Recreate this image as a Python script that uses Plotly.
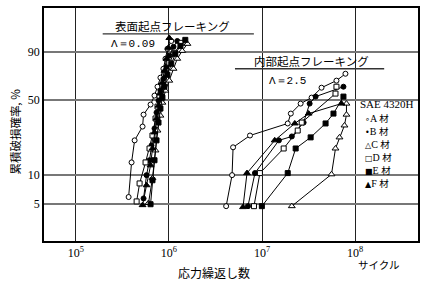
import math
import plotly.graph_objects as go

# ---------------- data ----------------
PROB_TICKS = [5, 10, 50, 90]
X_TICKS = [1e5, 1e6, 1e7, 1e8]
X_TICK_TEXT = ["10<sup>5</sup>", "10<sup>6</sup>", "10<sup>7</sup>", "10<sup>8</sup>"]

MATERIALS = ["A", "B", "C", "D", "E", "F"]

# surface-origin flaking (Λ = 0.09)
sA_N = [3.69e5, 3.97e5, 4.28e5, 5.21e5, 5.34e5, 6.35e5, 7.00e5, 7.54e5, 8.11e5, 8.73e5, 9.18e5, 9.64e5, 1.06e6]
sA_P = [5.9, 13.5, 22.3, 30.0, 38.2, 46.2, 54.0, 62.1, 70.4, 78.2, 85.9, 91.9, 95.3]
sB_N = [5.34e5, 5.75e5, 6.19e5, 6.50e5, 7.00e5, 7.36e5, 7.73e5, 8.11e5, 8.73e5, 9.40e5, 1.01e6, 1.12e6, 1.23e6]
sB_P = [5.7, 10.0, 14.2, 19.9, 28.8, 39.8, 49.6, 58.5, 69.5, 79.8, 87.9, 92.9, 95.3]
sC_N = [6.04e5, 6.66e5, 7.18e5, 7.54e5, 8.11e5, 8.52e5, 9.18e5, 1.01e6, 1.12e6, 1.23e6, 1.39e6, 1.58e6]
sC_P = [5.1, 9.3, 17.8, 27.6, 37.5, 47.8, 58.5, 67.7, 78.2, 85.9, 90.8, 94.2]
sD_N = [4.50e5, 4.84e5, 5.61e5, 6.19e5, 6.66e5, 7.18e5, 7.54e5, 7.92e5, 8.52e5, 9.18e5, 1.01e6, 1.15e6, 1.36e6]
sD_P = [5.3, 8.2, 13.5, 18.6, 24.8, 35.4, 44.5, 54.0, 64.0, 74.8, 83.0, 89.7, 94.6]
sE_N = [6.35e5, 6.66e5, 7.00e5, 7.36e5, 7.73e5, 8.11e5, 8.52e5, 8.95e5, 9.64e5, 1.06e6, 1.17e6, 1.33e6, 1.50e6]
sE_P = [4.95, 8.85, 14.2, 22.3, 32.6, 42.9, 52.2, 62.1, 73.0, 82.2, 89.1, 93.3, 95.7]
sF_N = [5.21e5, 5.75e5, 6.35e5, 6.66e5, 7.00e5, 7.36e5, 7.73e5, 8.11e5, 8.52e5, 8.95e5, 9.40e5, 9.88e5, 1.01e6]
sF_P = [4.84, 7.85, 12.6, 18.6, 26.5, 35.4, 45.3, 55.8, 65.8, 76.5, 85.9, 92.4, 96.3]

# internal-origin flaking (Λ = 2.5)
iA_N = [4.12e6, 4.77e6, 4.89e6, 7.43e6, 1.89e7, 2.04e7, 2.60e7, 3.41e7, 4.36e7, 6.31e7, 7.88e7]
iA_P = [4.72, 10.0, 19.1, 24.8, 32.0, 39.0, 47.0, 52.2, 61.2, 67.7, 73.9]
iB_N = [7.07e6, 8.40e6, 1.52e7, 2.09e7, 2.80e7, 3.25e7, 3.77e7, 7.50e7]
iB_P = [4.72, 10.5, 22.3, 24.3, 32.6, 47.0, 53.1, 62.1]
iC_N = [2.09e7, 5.58e7, 6.16e7, 6.80e7, 7.69e7, 8.08e7, 8.08e7]
iC_P = [4.72, 10.2, 18.6, 23.8, 30.7, 38.2, 47.0]
iD_N = [8.20e6, 9.50e6, 1.71e7, 2.42e7, 2.67e7, 6.16e7, 6.31e7]
iD_P = [4.72, 10.5, 18.6, 27.6, 32.6, 55.8, 62.1]
iE_N = [9.97e6, 1.89e7, 2.30e7, 3.33e7, 4.82e7, 5.86e7, 7.50e7]
iE_P = [4.72, 10.5, 18.6, 23.8, 32.0, 39.0, 53.1]
iF_N = [6.25e6, 6.90e6, 1.37e7, 2.25e7, 3.17e7, 7.14e7]
iF_P = [4.61, 10.5, 22.3, 32.0, 39.0, 47.0]

SURFACE = {"A": (sA_N, sA_P), "B": (sB_N, sB_P), "C": (sC_N, sC_P),
           "D": (sD_N, sD_P), "E": (sE_N, sE_P), "F": (sF_N, sF_P)}
INTERNAL = {"A": (iA_N, iA_P), "B": (iB_N, iB_P), "C": (iC_N, iC_P),
            "D": (iD_N, iD_P), "E": (iE_N, iE_P), "F": (iF_N, iF_P)}

# ---------------- styling ----------------
W, H = 426, 282
L, R, T, B = 44, 6, 7, 41
PW, PH = W - L - R, H - T - B

SYMBOL = {"A": "circle", "B": "circle", "C": "triangle-up", "D": "square",
          "E": "square", "F": "triangle-up"}
FILLED = {"A": False, "B": True, "C": False, "D": False, "E": True, "F": True}
LEG_GLYPH = {"A": "∘", "B": "•", "C": "△", "D": "□", "E": "■", "F": "▲"}

SERIF = "Liberation Serif"
CJK = "Noto Sans CJK JP"


def weib(p):
    """Weibull probability-paper scale."""
    return math.log(-math.log(1 - p / 100.0))


def px(x):
    return (x - L) / PW


def py(y):
    return (H - B - y) / PH


fig = go.Figure()

for group in (SURFACE, INTERNAL):
    for m in MATERIALS:
        n, p = group[m]
        fig.add_trace(go.Scatter(
            x=n, y=[weib(v) for v in p], mode="lines+markers",
            line=dict(color="black", width=1),
            marker=dict(symbol=SYMBOL[m], size=5 if SYMBOL[m] != "triangle-up" else 6,
                        color="black" if FILLED[m] else "white",
                        line=dict(color="black", width=1)),
            showlegend=False, hoverinfo="skip"))

# masks that interrupt grid lines behind labels (between grid and traces)
masks = [
    (96, 168.5, 48, 56), (171.5, 196, 48, 56), (236, 387, 48, 56),
    (358.5, 419, 96, 103), (358.5, 419, 171, 178),
    (166, 173, 12.5, 37), (260, 266, 42, 92), (354, 360, 100, 188),
]
shapes = []
for x0, x1, y0, y1 in masks:
    shapes.append(dict(type="rect", xref="paper", yref="paper", layer="between",
                       x0=px(x0), x1=px(x1), y0=py(y1), y1=py(y0),
                       line=dict(width=0), fillcolor="white"))
# title underlines
for x0, x1, y in [(103, 255, 33), (236, 386, 68)]:
    shapes.append(dict(type="line", xref="paper", yref="paper",
                       x0=px(x0), x1=px(x1), y0=py(y), y1=py(y),
                       line=dict(color="#333", width=1.3)))

ann = []


def text(x, y, s, size, family=SERIF, xanchor="center", angle=0):
    ann.append(dict(x=px(x), y=py(y), xref="paper", yref="paper", text=s,
                    showarrow=False, xanchor=xanchor, yanchor="middle",
                    borderpad=0, textangle=angle,
                    font=dict(family=family, size=size, color="black")))


text(173, 25, "表面起点フレーキング", 11.5, CJK)
text(133, 43, "Λ＝0.09", 11, "Liberation Mono")
text(313, 60, "内部起点フレーキング", 11.5, CJK)
text(289, 80, "Λ＝2.5", 11, "Liberation Mono")
text(388.5, 103, "SAE 4320H", 11, SERIF)
for i, m in enumerate(MATERIALS):
    y = 117 + i * 13.1
    label = (f'<span style="font-family:DejaVu Sans;font-size:8px">{LEG_GLYPH[m]}</span>'
             f'{m} <span style="font-family:{CJK};font-size:9.5px">材</span>')
    text(366, y, label, 10, SERIF, xanchor="left")
text(215, 273, "応力繰返し数", 12, CJK)
text(380, 265, "サイクル", 10.5, CJK)
text(15, 131, "累積破損確率, %", 11.5, CJK, angle=-90)

fig.update_layout(
    width=W, height=H, margin=dict(l=L, r=R, t=T, b=B, pad=0),
    paper_bgcolor="white", plot_bgcolor="white",
    shapes=shapes, annotations=ann, showlegend=False,
    font=dict(family=SERIF, size=12, color="black"),
)
fig.update_xaxes(
    type="log", range=[4.658, 8.676], tickvals=X_TICKS, ticktext=X_TICK_TEXT,
    showgrid=True, gridcolor="#222", gridwidth=1, zeroline=False,
    showline=True, linecolor="black", linewidth=1.5, mirror=True, ticks="",
    tickfont=dict(family=SERIF, size=12),
)
fig.update_yaxes(
    range=[-3.904, 1.946], tickvals=[weib(p) for p in PROB_TICKS],
    ticktext=[str(p) for p in PROB_TICKS],
    showgrid=True, gridcolor="#777", gridwidth=2, zeroline=False,
    showline=True, linecolor="black", linewidth=1.5, mirror=True, ticks="",
    tickfont=dict(family=SERIF, size=12),
)

fig.write_html("out.html")
